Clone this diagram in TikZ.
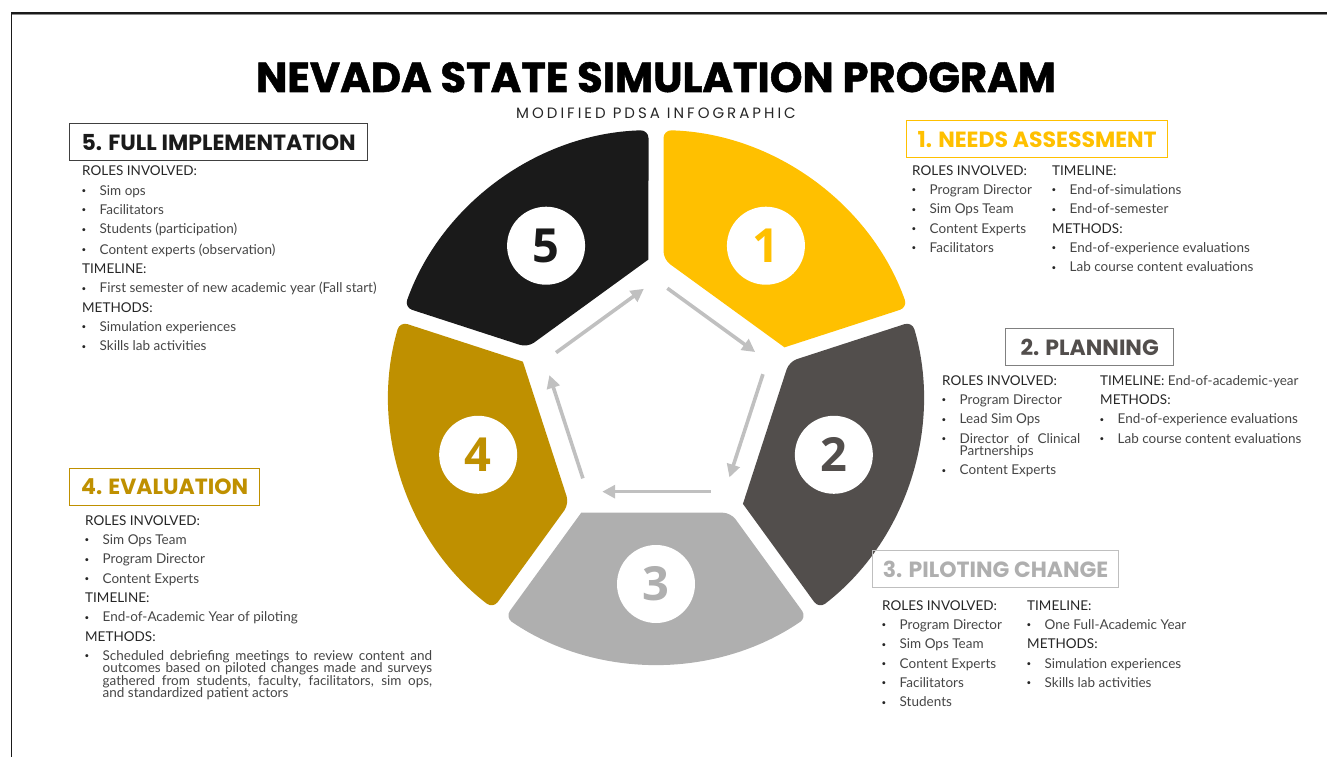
\documentclass[tikz,border=0pt]{standalone}
\usepackage{fontspec}
\setmainfont{Lato}
\newfontfamily\headfont{Poppins}
\newfontfamily\titlefont[BoldFeatures={FakeBold=1.2}]{Poppins}
\newfontfamily\subfont[LetterSpace=20]{Poppins}
\newfontfamily\numfont{Open Sans}
\usetikzlibrary{calc,positioning}
\usetikzlibrary{arrows.meta}

\definecolor{sim_yellow}{HTML}{FFC000}
\definecolor{sim_dark}{HTML}{524E4C}
\definecolor{sim_light}{HTML}{AFAFAF}
\definecolor{sim_gold}{HTML}{BF9000}
\definecolor{sim_black}{HTML}{1A1A1A}
\definecolor{sim_arrow}{HTML}{C0C0C0}
\definecolor{label_text}{HTML}{262626}
\definecolor{item_text}{HTML}{454545}

\newcommand{\lbl}[1]{\leavevmode{\color{label_text}#1}\par}
\newcommand{\itm}[1]{\hangindent=17.5pt\hangafter=1\makebox[17.5pt][l]{\hspace{-0.5pt}\raisebox{1.6pt}{\color{label_text}\fontsize{8}{8}\selectfont\textbullet}}#1\par}
% one ring piece: #1 middle angle, #2 fill
\newcommand{\wheelseg}[2]{%
  \fill[#2] ($(#1-36:143pt)!9.3pt!(#1+36:143pt)$) [rounded corners=8pt] --
    (#1-34.39:267pt) arc[start angle=#1-34.39, end angle=#1+34.39, radius=267pt] --
    ($(#1+36:143pt)!9.3pt!(#1-36:143pt)$) [sharp corners] -- cycle;}

\tikzset{
head_box/.style={draw, line width=1.3pt, anchor=north west, inner sep=0pt, minimum height=37pt, font=\headfont\bfseries\fontsize{22}{22}\selectfont},
info_col/.style={anchor=north west, inner sep=0pt, text width=#1, align=justify, text=item_text, font=\fontsize{13.5}{12.5}\selectfont\setlength{\parskip}{6.8pt}\setlength{\parindent}{0pt}, execute at begin node={\rule{0pt}{10pt}}},
num_disc/.style={circle, fill=white, minimum size=78pt, inner sep=0pt, font=\numfont\bfseries\fontsize{47}{47}\selectfont},
loop_arrow/.style={draw=sim_arrow, line width=3.6pt, -{Triangle[length=13pt,width=13pt]}, shorten <=14pt, shorten >=15pt}
}

\begin{document}
\begin{tikzpicture}[x=1pt, y=-1pt]
    \useasboundingbox (0,0) rectangle (1327,757);
    \draw[line width=2.4pt, sim_black] (11,13) -- (1327,13);
    \draw[line width=1pt, black!45] (11,14.9) -- (1327,14.9);
    \draw[line width=1.2pt, sim_black] (11.5,13) -- (11.5,757);

    \node[anchor=base, font=\titlefont\bfseries\fontsize{42}{42}\selectfont] (title) at (656,92) {\scalebox{0.99}[1]{NEVADA STATE SIMULATION PROGRAM}};
    \node[anchor=base, font=\subfont\fontsize{15}{15}\selectfont, text=label_text] (subtitle) at (656,119) {MODIFIED PDSA INFOGRAPHIC};

    % the ring
    \coordinate (hub) at (656,397);
    \begin{scope}[shift={(hub)}]
        \wheelseg{54}{sim_yellow}
        \wheelseg{-18}{sim_dark}
        \wheelseg{-90}{sim_light}
        \wheelseg{-162}{sim_gold}
        \wheelseg{126}{sim_black}
    \end{scope}
    \node[num_disc, text=sim_yellow] (num_1) at ($(hub)+(54:187pt)$) {1};
    \node[num_disc, text=sim_dark] (num_2) at ($(hub)+(-18:187pt)$) {2};
    \node[num_disc, text=sim_light] (num_3) at ($(hub)+(-90:187pt)$) {3};
    \node[num_disc, text=sim_gold] (num_4) at ($(hub)+(-162:187pt)$) {4};
    \node[num_disc, text=sim_black] (num_5) at ($(hub)+(126:187pt)$) {5};

    \coordinate (p_1) at ($(hub)+(90:117pt)$);
    \coordinate (p_2) at ($(hub)+(18:117pt)$);
    \coordinate (p_3) at ($(hub)+(-54:117pt)$);
    \coordinate (p_4) at ($(hub)+(-126:117pt)$);
    \coordinate (p_5) at ($(hub)+(162:117pt)$);
    \draw[loop_arrow] (p_1) -- (p_2);
    \draw[loop_arrow] (p_2) -- (p_3);
    \draw[loop_arrow] (p_3) -- (p_4);
    \draw[loop_arrow] (p_4) -- (p_5);
    \draw[loop_arrow] (p_5) -- (p_1);

    % 1. needs assessment
    \node[head_box, draw=sim_yellow, text=sim_yellow, minimum width=261pt] (head_1) at (906,120) {1. NEEDS ASSESSMENT};
    \node[info_col=138pt] (roles_1) at (912,165) {\lbl{ROLES INVOLVED:}\itm{Program Director}\itm{Sim Ops Team}\itm{Content Experts}\itm{Facilitators}};
    \node[info_col=215pt] (time_1) at (1052,165) {\lbl{TIMELINE:}\itm{End-of-simulations}\itm{End-of-semester}\lbl{METHODS:}\itm{End-of-experience evaluations}\itm{Lab course content evaluations}};

    % 2. planning
    \node[head_box, draw=black!50, text=sim_dark, minimum width=168pt] (head_2) at (1005,328) {2. PLANNING};
    \node[info_col=138pt] (roles_2) at (942,375) {\lbl{ROLES INVOLVED:}\itm{Program Director}\itm{Lead Sim Ops}\itm{Director of Clinical\linebreak Partnerships}\itm{Content Experts}};
    \node[info_col=215pt] (time_2) at (1100,375) {\lbl{TIMELINE: {\color{item_text}End-of-academic-year}}\lbl{METHODS:}\itm{End-of-experience evaluations}\itm{Lab course content evaluations}};

    % 3. piloting change
    \node[head_box, draw=black!25, text=sim_light, minimum width=246pt] (head_3) at (872,550) {3. PILOTING CHANGE};
    \node[info_col=140pt] (roles_3) at (882,600) {\lbl{ROLES INVOLVED:}\itm{Program Director}\itm{Sim Ops Team}\itm{Content Experts}\itm{Facilitators}\itm{Students}};
    \node[info_col=190pt] (time_3) at (1027,600) {\lbl{TIMELINE:}\itm{One Full-Academic Year}\lbl{METHODS:}\itm{Simulation experiences}\itm{Skills lab activities}};

    % 4. evaluation
    \node[head_box, draw=sim_gold, text=sim_gold, minimum width=190pt] (head_4) at (69,468) {4. EVALUATION};
    \node[info_col=347pt] (roles_4) at (85,515) {\lbl{ROLES INVOLVED:}\itm{Sim Ops Team}\itm{Program Director}\itm{Content Experts}\lbl{TIMELINE:}\itm{End-of-Academic Year of piloting}\lbl{METHODS:}\itm{Scheduled debriefing meetings to review content and\linebreak outcomes based on piloted changes made and surveys\linebreak gathered from students, faculty, facilitators, sim ops,\linebreak and standardized patient actors}};

    % 5. full implementation
    \node[head_box, draw=black!75, text=sim_black, minimum width=298pt] (head_5) at (69,123) {5. FULL IMPLEMENTATION};
    \node[info_col=320pt] (roles_5) at (82,165.5) {\lbl{ROLES INVOLVED:}\itm{Sim ops}\itm{Facilitators}\itm{Students (participation)}\itm{Content experts (observation)}\lbl{TIMELINE:}\itm{First semester of new academic year (Fall start)}\lbl{METHODS:}\itm{Simulation experiences}\itm{Skills lab activities}};
\end{tikzpicture}
\end{document}
